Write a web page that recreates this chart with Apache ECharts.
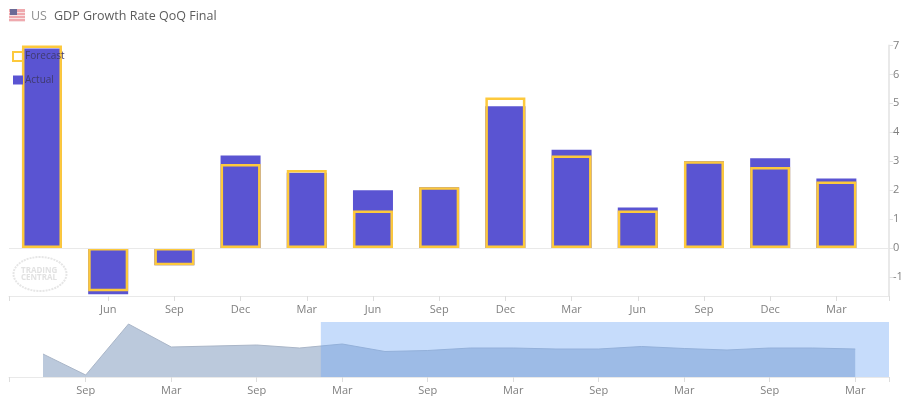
<!DOCTYPE html>
<html>
<head>
<meta charset="utf-8">
<style>html,body{margin:0;padding:0;background:#fff}#c{width:914px;height:396px}</style>
<script src="https://cdn.jsdelivr.net/npm/echarts@6/dist/echarts.min.js"></script>
</head>
<body>
<div id="c"></div>
<script>
const quarterLabels = ['', 'Jun', 'Sep', 'Dec', 'Mar', 'Jun', 'Sep', 'Dec', 'Mar', 'Jun', 'Sep', 'Dec', 'Mar'];
const actualValues = [6.9, -1.6, -0.6, 3.2, 2.6, 2.0, 2.1, 4.9, 3.4, 1.4, 3.0, 3.1, 2.4];
const forecastValues = [7.0, -1.5, -0.6, 2.9, 2.7, 1.3, 2.1, 5.2, 3.2, 1.3, 3.0, 2.8, 2.3];
const yTickValues = [-1, 0, 1, 2, 3, 4, 5, 6, 7];
const overviewValues = [23, 2, 53, 30, 31, 32, 29, 33, 25.5, 26.5, 29, 29, 28, 28, 30.5, 28.5, 27, 29, 29, 28];
const overviewLabels = ['', 'Sep', '', 'Mar', '', 'Sep', '', 'Mar', '', 'Sep', '', 'Mar', '', 'Sep', '', 'Mar', '', 'Sep', '', 'Mar'];
const selectionStart = 6.5;

const mainXMin = -0.498, mainXMax = 12.795, ovXMin = -0.795, ovXMax = 19.79;
const mainTickValues = [mainXMin].concat(quarterLabels.map((l, i) => l ? i : null).filter(v => v !== null), [mainXMax]);
const ovLabelValues = overviewLabels.map((l, i) => l ? i : null).filter(v => v !== null);
const ovTickValues = [ovXMin].concat(ovLabelValues, [ovXMax]);

const FONT = '"Open Sans"';
const PURPLE = '#5a54d2', YELLOW = '#fdc93c', AXIS = '#e9e9e9', LABEL = '#808080';

const chart = echarts.init(document.getElementById('c'), null, {renderer: 'canvas'});
chart.setOption({
  animation: false,
  backgroundColor: '#fff',
  title: {
    left: 31, top: 7, padding: 0,
    text: '{a|US} {b|GDP Growth Rate QoQ Final}',
    textStyle: {fontWeight: 'normal', rich: {
      a: {fontFamily: FONT, fontSize: 12.5, fontWeight: 'normal', color: '#8f8f8f', padding: [0, 2, 0, 0]},
      b: {fontFamily: FONT, fontSize: 12.5, fontWeight: 'normal', color: '#5c5c5c'}
    }}
  },
  legend: {
    left: 12, top: 51, padding: 0, orient: 'vertical', itemWidth: 10, itemHeight: 9, itemGap: 13, z: 20,
    data: ['Forecast', 'Actual'],
    selectedMode: false,
    icon: 'rect',
    textStyle: {fontFamily: FONT, fontSize: 10, color: '#3f3a6e', padding: [0, 0, 0, -3]}
  },
  grid: [
    {left: 9, width: 880, top: 45.5, height: 250.5},
    {left: 9, width: 880, top: 322, height: 55}
  ],
  xAxis: [
    {
      type: 'value', gridIndex: 0, min: mainXMin, max: mainXMax,
      splitLine: {show: false},
      axisLine: {show: true, onZero: false, lineStyle: {color: AXIS, width: 1}},
      axisTick: {show: true, length: 5, customValues: mainTickValues, lineStyle: {color: '#dddddd'}},
      axisLabel: {show: true, customValues: mainTickValues.slice(1, -1), margin: 8,
        formatter: v => quarterLabels[v] || '', color: LABEL, fontFamily: FONT, fontSize: 11}
    },
    {
      type: 'value', gridIndex: 1, min: ovXMin, max: ovXMax,
      splitLine: {show: false},
      axisLine: {show: true, onZero: false, lineStyle: {color: AXIS, width: 1}},
      axisTick: {show: true, length: 5, customValues: ovTickValues, lineStyle: {color: '#dddddd'}},
      axisLabel: {show: true, customValues: ovLabelValues, margin: 8,
        formatter: v => overviewLabels[v] || '', color: LABEL, fontFamily: FONT, fontSize: 11}
    }
  ],
  yAxis: [
    {
      type: 'value', gridIndex: 0, position: 'right', min: -1.66, max: 7,
      splitLine: {show: false},
      axisLine: {show: true, onZero: false, lineStyle: {color: AXIS, width: 2}},
      axisTick: {show: true, length: 4, customValues: yTickValues, lineStyle: {color: '#e2e2e2'}},
      axisLabel: {show: true, customValues: yTickValues, margin: 4, color: LABEL, fontFamily: FONT, fontSize: 11}
    },
    {type: 'value', gridIndex: 1, min: 0, max: 55, show: false}
  ],
  series: [
    {
      name: 'Zero', type: 'line', xAxisIndex: 0, yAxisIndex: 0, data: [], z: 1, silent: true,
      markLine: {silent: true, symbol: 'none', label: {show: false}, animation: false,
        lineStyle: {color: AXIS, width: 1, type: 'solid'}, data: [{yAxis: 0}]}
    },
    {
      name: 'Actual', type: 'bar', xAxisIndex: 0, yAxisIndex: 0, barWidth: 40, barGap: '-100%', z: 3,
      data: actualValues.map((v, i) => [i, v]),
      itemStyle: {color: PURPLE}
    },
    {
      name: 'Forecast', type: 'bar', xAxisIndex: 0, yAxisIndex: 0, barWidth: 40, barGap: '-100%', z: 4, clip: false,
      data: forecastValues.map((v, i) => [i, v]),
      itemStyle: {color: 'rgba(255,255,255,0)', borderColor: YELLOW, borderWidth: 2.5}
    },
    {
      name: 'Overview', type: 'line', xAxisIndex: 1, yAxisIndex: 1, z: 2, showSymbol: false, silent: true,
      data: overviewValues.map((v, i) => [i, v]),
      lineStyle: {color: '#aab6c8', width: 1},
      areaStyle: {color: '#bbc9dc', opacity: 1}
    },
    {
      name: 'Selection', type: 'line', xAxisIndex: 1, yAxisIndex: 1, data: [], z: 5, silent: true,
      markArea: {silent: true, animation: false, z: 5,
        itemStyle: {color: 'rgba(112,167,245,0.4)'},
        data: [[{xAxis: selectionStart}, {xAxis: ovXMax}]]}
    }
  ],
  graphic: [
    {type: 'group', left: 9, top: 9, children: [
      {type: 'rect', shape: {x: 0, y: 0, width: 16, height: 13}, style: {fill: '#efa9ae'}},
      {type: 'rect', shape: {x: 0, y: 3, width: 16, height: 1}, style: {fill: '#f7e3e4'}},
      {type: 'rect', shape: {x: 0, y: 6, width: 16, height: 1}, style: {fill: '#f7e3e4'}},
      {type: 'rect', shape: {x: 0, y: 9, width: 16, height: 1}, style: {fill: '#f7e3e4'}},
      {type: 'rect', shape: {x: 0, y: 12, width: 16, height: 1}, style: {fill: '#f7e3e4'}},
      {type: 'rect', shape: {x: 1, y: 0, width: 7, height: 6}, style: {fill: '#6b6a96'}}
    ]},
    {type: 'ellipse', shape: {cx: 40, cy: 274, rx: 26.5, ry: 17}, silent: true,
      style: {fill: 'none', stroke: '#e6e6e6', lineWidth: 2, lineDash: [2, 1]}},
    {type: 'text', left: 21, top: 267, silent: true,
      style: {text: 'TRADING', fill: '#e2e2e2', font: 'bold 8px ' + FONT}},
    {type: 'text', left: 21, top: 274, silent: true,
      style: {text: 'CENTRAL', fill: '#e2e2e2', font: 'bold 8px ' + FONT}}
  ]
});
</script>
</body>
</html>
